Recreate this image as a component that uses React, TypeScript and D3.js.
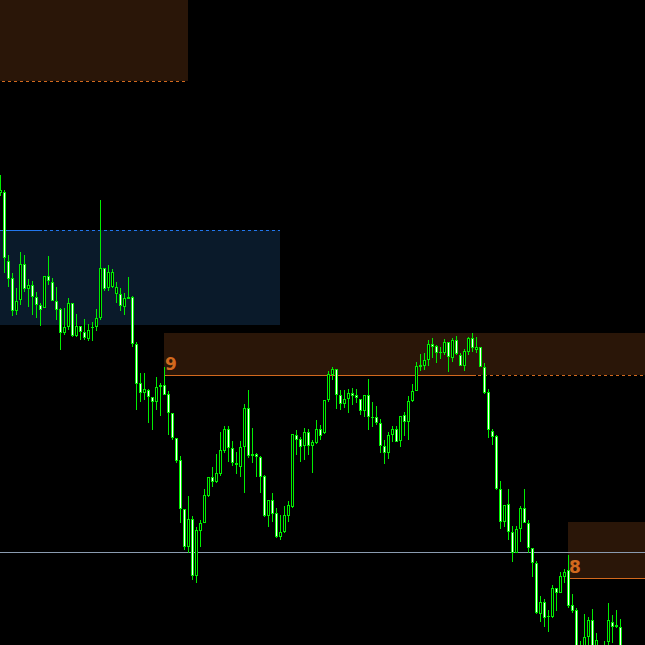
import React from "react";
import * as d3 from "d3";

// OHLC candles (price units), index = bar number
const opens = [807,808,739,722,689,700,736,711,715,703,695,692,724,718,699,691,667,673,697,664,674,668,661,672,673,682,732,712,713,706,706,693,701,703,656,617,607,610,603,598,613,615,606,587,562,540,491,453,481,424,469,477,504,523,518,526,549,571,552,537,533,553,592,544,546,543,524,484,500,487,463,468,484,493,565,561,554,568,554,557,571,567,600,625,631,605,596,601,607,605,601,589,605,583,583,577,554,547,565,571,559,585,578,599,609,633,634,640,656,654,647,647,658,642,660,645,634,648,662,650,653,633,608,569,564,511,478,496,468,447,471,492,477,452,437,386,398,383,383,412,407,423,430,395,390,340,345,363,380,345,350,340,358,378,373,373];
const highs = [825,810,745,727,712,748,745,721,719,708,697,724,744,722,713,692,692,702,697,686,674,681,676,678,691,800,732,735,731,718,712,707,723,704,658,627,627,611,603,623,617,633,609,587,562,544,491,504,484,473,480,511,523,533,546,568,574,574,559,548,559,596,610,572,547,544,525,500,507,492,485,494,499,566,570,563,572,571,560,580,575,600,629,633,631,610,610,611,612,611,601,605,621,598,594,581,560,568,574,574,584,588,604,616,638,646,647,660,662,655,653,661,658,662,664,647,651,663,667,663,653,637,611,571,565,519,495,511,474,474,494,511,480,452,439,404,401,390,415,412,428,431,445,406,392,359,386,383,391,367,352,359,397,385,390,381];
const lows = [804,727,713,684,685,695,708,693,685,682,674,692,715,699,680,650,665,670,663,663,660,660,659,659,669,680,709,709,712,697,689,685,701,653,590,598,600,577,570,590,584,605,565,560,537,477,450,447,420,417,453,477,503,513,517,524,547,538,534,526,523,507,542,537,523,507,483,473,478,462,460,467,478,492,545,538,540,545,527,556,560,566,598,620,591,590,592,587,595,597,585,583,570,573,575,547,536,541,558,558,553,564,560,598,609,629,630,634,642,637,641,645,628,638,645,634,629,645,648,647,633,606,562,555,510,471,473,460,438,447,458,477,447,423,386,378,373,368,382,389,407,417,392,387,335,330,340,352,335,335,330,332,352,357,372,330];
const closes = [810,742,721,689,699,736,711,715,703,695,690,724,719,699,690,667,673,697,664,674,668,662,670,673,682,732,711,728,728,713,694,702,703,656,616,607,611,603,598,613,615,605,587,562,539,491,453,481,424,470,477,505,523,518,527,550,571,552,537,535,553,592,544,546,543,523,484,500,486,463,468,485,495,566,560,553,568,554,558,571,564,600,626,631,605,596,601,607,604,602,589,605,583,582,577,554,547,565,571,558,584,578,599,609,634,635,640,656,653,647,648,658,643,660,646,634,649,662,652,653,633,607,570,563,511,478,495,468,447,471,492,477,452,437,387,398,382,384,412,407,424,428,394,389,340,345,363,380,345,360,340,350,380,373,375,340];

// Levels (price units) and zone extents (bar index)
const zoneTop = [1000, 770, 667, 478];
const zoneBottom = [919, 675, 625, 422];
const zoneStart = [0, 0, 41, 142];
const zoneEnd = [47, 70, 162, 162];
const zoneKind = ["supply", "demand", "supply", "supply"];
const greyLevel = 448;
const labelText = ["9", "8"];
const labelZone = [2, 3];

const W = 645;
const H = 645;

export default function App() {
  const x = d3.scaleLinear().domain([0, 161.25]).range([0, W]);
  const y = d3.scaleLinear().domain([355, 1000]).range([H, 0]);

  const brown = "#2a1608";
  const navy = "#0a1a2a";
  const orange = "#d2691e";
  const blue = "#2277ee";
  const green = "#00ee00";

  const candles = opens.map((o, i) => ({ o, h: highs[i], l: lows[i], c: closes[i], i }));

  return (
    <svg
      width={W}
      height={H}
      style={{ position: "fixed", left: 0, top: 0, background: "#000", display: "block" }}
    >
      <rect x={0} y={0} width={W} height={H} fill="#000" />
      {zoneTop.map((t, k) => (
        <rect
          key={"z" + k}
          x={x(zoneStart[k])}
          y={Math.round(y(t))}
          width={x(zoneEnd[k]) - x(zoneStart[k])}
          height={Math.round(y(zoneBottom[k])) - Math.round(y(t))}
          fill={zoneKind[k] === "demand" ? navy : brown}
        />
      ))}
      {/* top zone dashed bottom line */}
      <line
        x1={x(zoneStart[0]) + 2}
        x2={x(zoneEnd[0])}
        y1={Math.round(y(zoneBottom[0])) + 0.5}
        y2={Math.round(y(zoneBottom[0])) + 0.5}
        stroke={orange}
        strokeDasharray="3,3"
      />
      {/* blue zone top line: solid then dashed */}
      <line
        x1={x(0)}
        x2={x(10.5)}
        y1={Math.round(y(zoneTop[1])) + 0.5}
        y2={Math.round(y(zoneTop[1])) + 0.5}
        stroke={blue}
      />
      <line
        x1={x(11)}
        x2={x(zoneEnd[1])}
        y1={Math.round(y(zoneTop[1])) + 0.5}
        y2={Math.round(y(zoneTop[1])) + 0.5}
        stroke={blue}
        strokeDasharray="3,3"
      />
      {/* middle zone bottom line: solid then dashed */}
      <line
        x1={x(zoneStart[2])}
        x2={x(119)}
        y1={Math.round(y(zoneBottom[2])) + 0.5}
        y2={Math.round(y(zoneBottom[2])) + 0.5}
        stroke={orange}
      />
      <line
        x1={x(119.5)}
        x2={W}
        y1={Math.round(y(zoneBottom[2])) + 0.5}
        y2={Math.round(y(zoneBottom[2])) + 0.5}
        stroke={orange}
        strokeDasharray="3,3"
      />
      {/* bottom-right zone bottom line */}
      <line
        x1={x(zoneStart[3])}
        x2={W}
        y1={Math.round(y(zoneBottom[3])) + 0.5}
        y2={Math.round(y(zoneBottom[3])) + 0.5}
        stroke={orange}
      />
      {/* grey horizontal level */}
      <line
        x1={0}
        x2={W}
        y1={Math.round(y(greyLevel)) + 0.5}
        y2={Math.round(y(greyLevel)) + 0.5}
        stroke="#8a9bb0"
      />
      {candles.map((d) => {
        const cx = Math.round(x(d.i));
        const yh = Math.round(y(d.h));
        const yl = Math.round(y(d.l));
        const top = Math.round(y(Math.max(d.o, d.c)));
        const bot = Math.round(y(Math.min(d.o, d.c)));
        const bh = Math.max(1, bot - top);
        const bear = d.c < d.o;
        return (
          <g key={"c" + d.i}>
            <rect x={cx} y={yh} width={1} height={Math.max(1, yl - yh)} fill={green} />
            <rect x={cx - 1} y={top} width={3} height={bh} fill={green} />
            {bh > 2 && (
              <rect x={cx} y={top + 1} width={1} height={bh - 2} fill={bear ? "#ffffff" : "#000000"} />
            )}
          </g>
        );
      })}
      {labelText.map((t, k) => (
        <text
          key={"l" + k}
          x={x(zoneStart[labelZone[k]]) + 1}
          y={Math.round(y(zoneBottom[labelZone[k]])) - 5}
          fill={orange}
          fontFamily="DejaVu Sans"
          fontWeight="bold"
          fontSize={17}
        >
          {t}
        </text>
      ))}
    </svg>
  );
}
